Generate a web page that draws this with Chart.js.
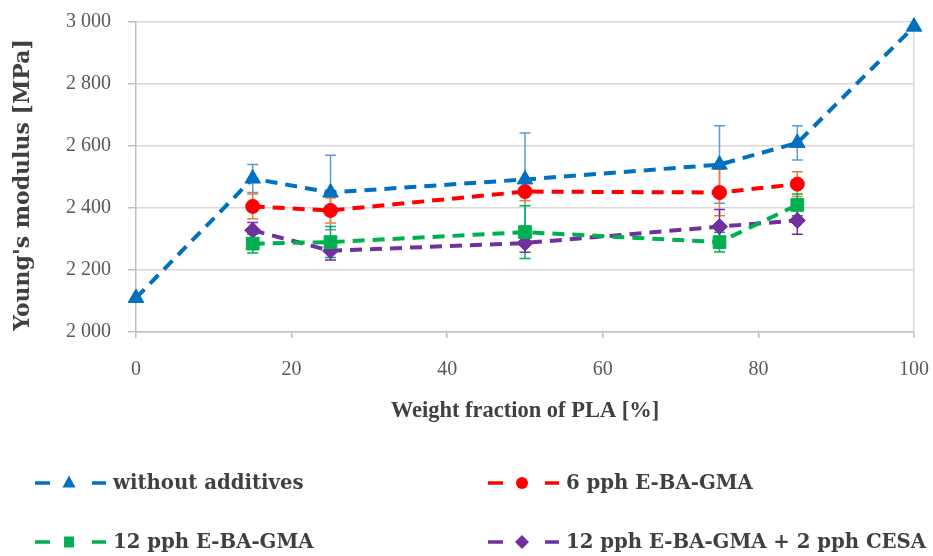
<!DOCTYPE html>
<html>
<head>
<meta charset="utf-8">
<script src="https://cdn.jsdelivr.net/npm/chart.js@4/dist/chart.umd.min.js"></script>
<style>
  html, body { margin: 0; padding: 0; background: #ffffff; }
  #wrap { width: 933px; height: 556px; }
</style>
</head>
<body>
<div id="wrap"><canvas id="c" width="933" height="556"></canvas></div>
<script>
// Weight fraction of PLA [%]
const fractionAll = [0, 15, 25, 50, 75, 85, 100];
const fractionBlend = [15, 25, 50, 75, 85];

// Young's modulus [MPa] and standard deviations
const modulusNoAdditives = [2110, 2495, 2450, 2492, 2540, 2610, 2985];
const sdNoAdditives      = [0, 45, 120, 150, 125, 55, 0];

const modulus6EBAGMA  = [2405, 2392, 2453, 2450, 2477];
const sd6EBAGMA       = [40, 40, 30, 75, 40];

const modulus12EBAGMA = [2285, 2290, 2322, 2290, 2410];
const sd12EBAGMA      = [30, 50, 85, 32, 35];

const modulus12EBAGMACesa = [2328, 2262, 2287, 2340, 2360];
const sd12EBAGMACesa      = [25, 30, 30, 55, 45];

const seriesNames = [
  'without additives',
  '6 pph E-BA-GMA',
  '12 pph E-BA-GMA',
  '12 pph E-BA-GMA + 2 pph CESA'
];

const yTicks = [2000, 2200, 2400, 2600, 2800, 3000];
const xTicks = [0, 20, 40, 60, 80, 100];

const yTitle = "Young's modulus [MPa]";
const xTitle = 'Weight fraction of PLA [%]';

const SERIF = '"Liberation Serif", "DejaVu Serif", serif';
const SERIF_WIDE = '"DejaVu Serif", "Liberation Serif", serif';
const GRID = '#D9D9D9';
const AXIS = '#BFBFBF';
const TEXT = '#595959';
const TITLE = '#404040';

const toPoints = (xs, ys) => xs.map((x, i) => ({ x: x, y: ys[i] }));

const styles = [
  { color: '#0070C0', bar: '#5B9BD5', shape: 'triangle', r: 9,   lr: 7.5 },
  { color: '#FF0000', bar: '#ED7D31', shape: 'circle',   r: 7,   lr: 6 },
  { color: '#00B050', bar: '#00B050', shape: 'rect',     r: 9,   lr: 5.5 },
  { color: '#7030A0', bar: '#7030A0', shape: 'rectRot',  r: 8,   lr: 7 }
];

const seriesX = [fractionAll, fractionBlend, fractionBlend, fractionBlend];
const seriesY = [modulusNoAdditives, modulus6EBAGMA, modulus12EBAGMA, modulus12EBAGMACesa];
const seriesSd = [sdNoAdditives, sd6EBAGMA, sd12EBAGMA, sd12EBAGMACesa];

const datasets = seriesY.map((ys, i) => ({
  label: seriesNames[i],
  data: toPoints(seriesX[i], ys),
  borderColor: styles[i].color,
  backgroundColor: styles[i].color,
  borderWidth: 4,
  borderDash: [12, 8],
  pointStyle: styles[i].shape,
  pointRadius: styles[i].r,
  pointHoverRadius: styles[i].r,
  pointBackgroundColor: styles[i].color,
  pointBorderColor: styles[i].color,
  pointBorderWidth: 1,
  tension: 0,
  fill: false,
  clip: false,
  order: i
}));

// Vertical error bars with caps, drawn underneath the lines and markers
const errorBars = {
  id: 'errorBars',
  beforeDatasetsDraw(chart) {
    const { ctx, scales: { x, y } } = chart;
    ctx.save();
    seriesY.forEach((ys, i) => {
      ctx.strokeStyle = styles[i].bar;
      ctx.lineWidth = 1.5;
      ctx.setLineDash([]);
      ys.forEach((v, k) => {
        const sd = seriesSd[i][k];
        if (!sd) return;
        const px = x.getPixelForValue(seriesX[i][k]);
        const top = y.getPixelForValue(v + sd);
        const bot = y.getPixelForValue(v - sd);
        ctx.beginPath();
        ctx.moveTo(px, top); ctx.lineTo(px, bot);
        ctx.moveTo(px - 5.5, top); ctx.lineTo(px + 5.5, top);
        ctx.moveTo(px - 5.5, bot); ctx.lineTo(px + 5.5, bot);
        ctx.stroke();
      });
    });
    ctx.restore();
  }
};

function drawMarker(ctx, shape, cx, cy, r, color) {
  ctx.fillStyle = color;
  ctx.beginPath();
  if (shape === 'triangle') {
    ctx.moveTo(cx, cy - r);
    ctx.lineTo(cx + r * 0.87, cy + r * 0.6);
    ctx.lineTo(cx - r * 0.87, cy + r * 0.6);
  } else if (shape === 'circle') {
    ctx.arc(cx, cy, r, 0, Math.PI * 2);
  } else if (shape === 'rect') {
    ctx.rect(cx - r * 0.9, cy - r, 1.8 * r, 2 * r);
  } else {
    ctx.moveTo(cx, cy - r);
    ctx.lineTo(cx + r, cy);
    ctx.lineTo(cx, cy + r);
    ctx.lineTo(cx - r, cy);
  }
  ctx.closePath();
  ctx.fill();
}

// Rotated y-axis title plus a two-column legend below the x-axis title
const annotations = {
  id: 'annotations',
  afterDraw(chart) {
    const { ctx, chartArea } = chart;
    ctx.save();
    ctx.translate(23, (chartArea.top + chartArea.bottom) / 2 + 8);
    ctx.rotate(-Math.PI / 2);
    ctx.fillStyle = TITLE;
    ctx.font = 'bold 22px ' + SERIF_WIDE;
    ctx.textAlign = 'center';
    ctx.textBaseline = 'middle';
    ctx.fillText(yTitle, 0, 0);
    ctx.restore();

    const cols = [35, 488];
    const rows = [483, 542];
    ctx.save();
    seriesNames.forEach((name, i) => {
      const x0 = cols[i % 2];
      const yc = rows[Math.floor(i / 2)];
      ctx.strokeStyle = styles[i].color;
      ctx.lineWidth = 3.5;
      ctx.setLineDash([]);
      ctx.beginPath();
      ctx.moveTo(x0, yc); ctx.lineTo(x0 + 15, yc);
      ctx.moveTo(x0 + 57, yc); ctx.lineTo(x0 + 71, yc);
      ctx.stroke();
      drawMarker(ctx, styles[i].shape, x0 + 34, yc, styles[i].lr, styles[i].color);
      ctx.fillStyle = TITLE;
      ctx.font = 'bold 19.7px ' + SERIF_WIDE;
      ctx.textBaseline = 'middle';
      ctx.textAlign = 'left';
      ctx.fillText(name, x0 + 78, yc + 1);
    });
    ctx.restore();
  }
};

const fmtThousands = v => String(v).replace(/\B(?=(\d{3})+(?!\d))/g, ' ');

new Chart(document.getElementById('c'), {
  type: 'line',
  data: { datasets: datasets },
  options: {
    responsive: false,
    devicePixelRatio: 1,
    animation: false,
    layout: { padding: { top: 22, right: 19, bottom: 124, left: 0 } },
    plugins: {
      legend: { display: false },
      tooltip: { enabled: false }
    },
    scales: {
      x: {
        type: 'linear',
        min: 0,
        max: 100,
        afterBuildTicks: s => { s.ticks = xTicks.map(v => ({ value: v })); },
        afterFit: s => { s.height = 100; s.paddingLeft = 0; s.paddingRight = 0; },
        grid: {
          drawOnChartArea: true,
          color: c => (c.tick && c.tick.value === 100 ? GRID : 'rgba(0,0,0,0)'),
          lineWidth: 1.5,
          drawTicks: true,
          tickLength: 6,
          tickColor: AXIS,
          tickWidth: 1.5
        },
        border: { display: true, color: AXIS, width: 1.5 },
        ticks: {
          color: TEXT,
          font: { family: SERIF, size: 20 },
          padding: 20,
          maxRotation: 0
        },
        title: {
          display: true,
          text: xTitle,
          color: TITLE,
          font: { family: SERIF, size: 22.5, weight: 'bold' },
          padding: { top: 0, bottom: 7 }
        }
      },
      y: {
        type: 'linear',
        min: 2000,
        max: 3000,
        afterBuildTicks: s => { s.ticks = yTicks.map(v => ({ value: v })); },
        afterFit: s => { s.width = 136; s.paddingTop = 0; s.paddingBottom = 0; },
        grid: {
          color: GRID,
          lineWidth: 1.5,
          drawTicks: true,
          tickLength: 8,
          tickColor: AXIS,
          tickWidth: 1.5
        },
        border: { display: true, color: AXIS, width: 1.5 },
        ticks: {
          color: TEXT,
          font: { family: SERIF, size: 20 },
          padding: 17,
          callback: v => fmtThousands(v)
        },
        title: { display: false }
      }
    }
  },
  plugins: [errorBars, annotations]
});
</script>
</body>
</html>
